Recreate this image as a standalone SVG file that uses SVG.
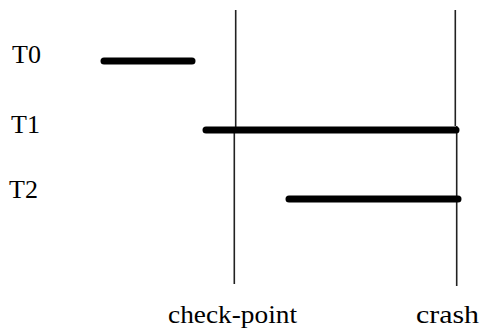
<svg xmlns="http://www.w3.org/2000/svg" width="484" height="329" viewBox="0 0 484 329">
<style>
.lbl{font-family:"Liberation Serif","Times New Roman",serif;font-size:26px;fill:#000}
.bar{stroke:#000;stroke-width:7;stroke-linecap:round;fill:none}
.vl{stroke:#222;stroke-width:1.6;fill:none}
</style>
<rect width="484" height="329" fill="#fff"/>
<g id="connectors">
<path class="vl" d="M235.7 10V128 M234.3 128V284"/>
<path class="vl" d="M455.3 10V126 M456.7 126V286"/>
</g>
<g id="T0"><text class="lbl" x="12" y="63">T0</text><line class="bar" x1="104" y1="61" x2="192" y2="61"/></g>
<g id="T1"><text class="lbl" x="11" y="133">T1</text><line class="bar" x1="206" y1="130" x2="456" y2="130"/></g>
<g id="T2"><text class="lbl" x="9" y="198">T2</text><line class="bar" x1="289" y1="199" x2="458" y2="199"/></g>
<g id="checkpoint"><text class="lbl" x="168" y="323" textLength="129" lengthAdjust="spacingAndGlyphs">check-point</text></g>
<g id="crash"><text class="lbl" x="416" y="323" textLength="63" lengthAdjust="spacingAndGlyphs">crash</text></g>
</svg>
